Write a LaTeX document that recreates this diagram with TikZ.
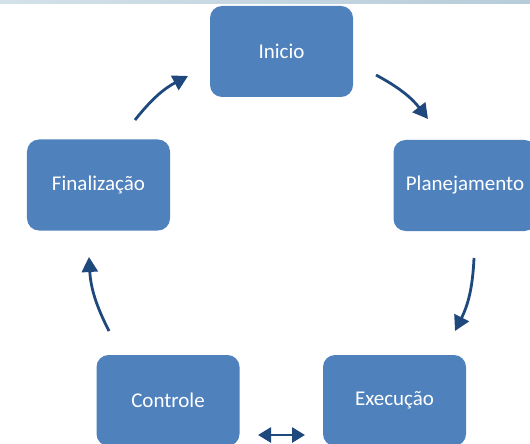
\documentclass[tikz,border=0pt]{standalone}
\usepackage{fontspec}
\setmainfont{Carlito}
\usetikzlibrary{arrows.meta}
\definecolor{boxblue}{HTML}{4F81BD}
\definecolor{arrowblue}{HTML}{1F497D}
\definecolor{barleft}{HTML}{D3E1E9}
\definecolor{barright}{HTML}{B7CCD9}
\begin{document}
\begin{tikzpicture}[x=1bp,y=1bp,
  stagebox/.style={draw=none, fill=boxblue, rounded corners=12bp,
    minimum width=143bp, minimum height=91bp, inner sep=0pt,
    text=white, font=\fontsize{21bp}{24bp}\selectfont},
  cyclearrow/.style={draw=arrowblue, line width=2.8bp,
    -{Triangle[length=15bp,width=16bp]}},
  botharrow/.style={draw=arrowblue, line width=2.8bp,
    {Triangle[length=13bp,width=15bp]}-{Triangle[length=13bp,width=15bp]}}]
\useasboundingbox (0,0) rectangle (530,-444);
\shade[left color=barleft, right color=barright] (0,0) rectangle (530,-3.5);

\node[stagebox] (ini) at (281.5,-51.5) {Inicio};
\node[stagebox] (pla) at (465,-185.5) {Planejamento};
\node[stagebox] (exe) at (394.5,-400.5) {Execução};
\node[stagebox] (con) at (168,-400.5) {Controle};
\node[stagebox] (fin) at (98.5,-185) {Finalização};

\coordinate (a1s) at (376,-75);
\coordinate (a1e) at (428,-119);
\coordinate (a2s) at (474,-258);
\coordinate (a2e) at (455,-331);
\coordinate (a3s) at (305,-435);
\coordinate (a3e) at (258,-435);
\coordinate (a4s) at (109,-331);
\coordinate (a4e) at (89,-257);
\coordinate (a5s) at (135,-120);
\coordinate (a5e) at (188,-76);

\draw[cyclearrow] (a1s) to[bend left=12] (a1e);
\draw[cyclearrow] (a2s) to[bend left=12] (a2e);
\draw[botharrow] (a3s) -- (a3e);
\draw[cyclearrow] (a4s) to[bend left=12] (a4e);
\draw[cyclearrow] (a5s) to[bend left=12] (a5e);
\end{tikzpicture}
\end{document}
